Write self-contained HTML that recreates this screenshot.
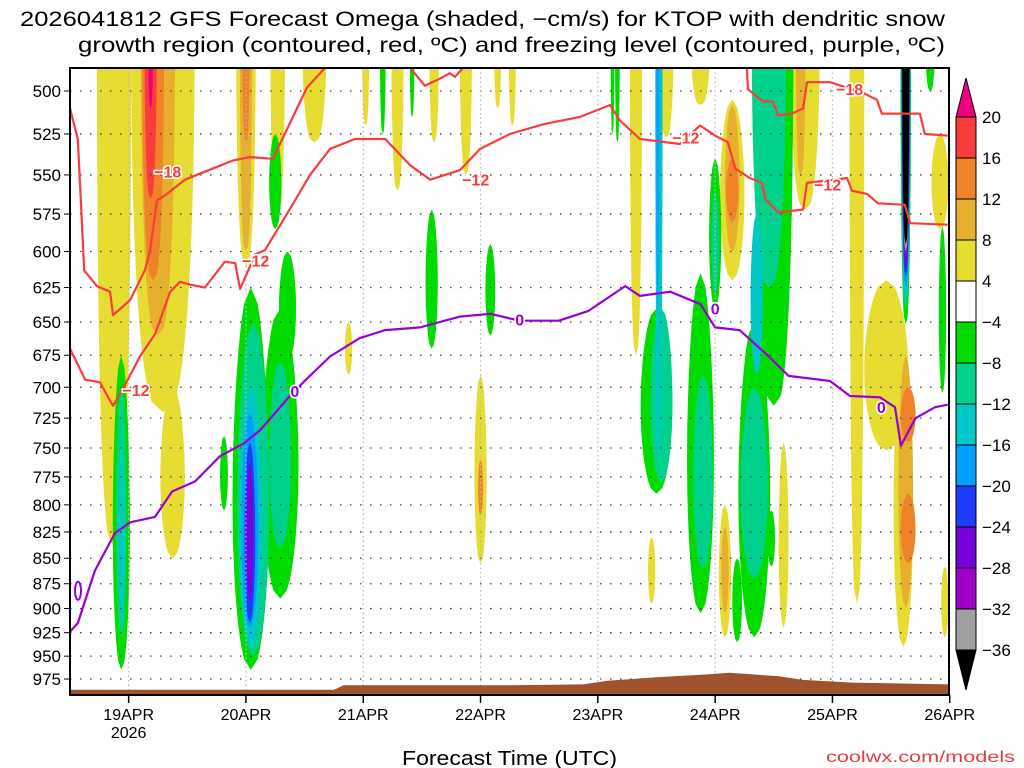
<!DOCTYPE html>
<html><head><meta charset="utf-8"><style>
html,body{margin:0;padding:0;background:#fff;}
svg{display:block;font-family:"Liberation Sans","DejaVu Sans",sans-serif;}
</style></head><body>
<svg id="chart" width="1024" height="768" viewBox="0 0 1024 768" xmlns="http://www.w3.org/2000/svg">
<defs><clipPath id="plotclip"><rect x="70" y="68" width="879" height="627"/></clipPath></defs>
<text x="20" y="26" font-size="21" textLength="925" lengthAdjust="spacingAndGlyphs" fill="#000">2026041812 GFS Forecast Omega (shaded, −cm/s) for KTOP with dendritic snow</text>
<text x="78" y="52" font-size="21" textLength="867" lengthAdjust="spacingAndGlyphs" fill="#000">growth region (contoured, red, ºC) and freezing level (contoured, purple, ºC)</text>
<g id="shading" clip-path="url(#plotclip)"></g>
<g id="grid"></g>
<g id="terrain" clip-path="url(#plotclip)"></g>
<g id="contours" clip-path="url(#plotclip)"></g>
<g id="axes"></g>
<g id="colorbar"></g>
<text x="402" y="765" font-size="20" textLength="215" lengthAdjust="spacingAndGlyphs" fill="#000">Forecast Time (UTC)</text>
<text x="826" y="762" font-size="16" textLength="189" lengthAdjust="spacingAndGlyphs" fill="#e83c3c">coolwx.com/models</text>
</svg>
<script>
// ---- data ----
const pressureTicks = [500,525,550,575,600,625,650,675,700,725,750,775,800,825,850,875,900,925,950,975];
const dayLabels = ["19APR","20APR","21APR","22APR","23APR","24APR","25APR","26APR"];
const dayHours = [12,36,60,84,108,132,156,180];
const cbLevels = ["20","16","12","8","4","−4","−8","−12","−16","−20","−24","−28","−32","−36"];
const cbColors = ["#fa3c3c","#f08228","#e6af2d","#e6dc32","#ffffff","#00dc00","#00d28c","#00c8c8","#00a0ff","#1e3cff","#7800dc","#a000c8","#a0a0a0"];
// shaded blobs: [hour, pTop, pBottom, widthHours, level]
const blobs = [
[9,470,840,7,1],[19,470,720,13,1],[21,700,850,5,1],[18,470,660,7,2],[17,470,620,4.5,3],[16.5,470,565,2.5,4],[16.5,470,510,1,5],
[36,470,610,4,1],[36,470,600,2.5,2],[36,470,530,1.5,3],[42.5,470,575,3,1],[50,470,530,5,1],
[60.5,470,520,1.5,1],[67,470,560,2.5,1],[74.5,470,530,2,1],[81,470,550,2.5,1],[87.5,470,510,1.5,1],[90.5,470,520,1.5,1],
[84,690,855,2.5,1],[84,760,810,1,3],[57,650,690,1.5,1],
[115.8,470,675,2.5,1],[122,470,527,3,1],[129,470,508,4,1],[135.5,505,620,5,1],[135.5,508,600,3,2],[135.5,540,580,2.5,3],
[150.4,470,572,6,1],[149.5,470,550,2,2],[161,470,895,3,1],[167,620,752,9,1],[170.5,670,940,4,1],[171,675,900,3,2],
[171.5,700,745,3,3],[171.5,790,855,3,3],[178,525,585,3.5,1],[179,858,930,1.5,1],[146,745,920,2,1],
[134,800,930,2.5,1],[134,820,905,1.5,2],[119,830,895,1.5,1],
[120,640,790,6.5,-1],[121,640,780,4.5,-2],[120.5,470,760,1.5,-3],[120.3,470,640,0.7,-4],
[129,615,905,5.5,-1],[129.5,690,860,4,-2],[132,540,640,2.5,-1],[132,560,630,1.5,-2],
[140,650,930,6.5,-1],[140,700,870,5.5,-2],[136.5,850,935,2,-1],
[144,470,715,8,-1],[143,470,625,7,-2],[140.5,575,690,2.5,-3],[143.5,805,858,1.5,-1],
[112,470,530,1,-1],[111,470,525,0.8,-1],[176,470,500,2,-1],[178.5,583,705,1.5,-1],
[171,470,652,2.2,-1],[171,470,640,2,-2],[171,470,632,1.9,-3],[171,470,625,1.8,-4],[171,470,618,1.7,-5],[171,470,612,1.6,-6],[171,470,605,1.5,-7],[171,470,600,1.5,-8],[171,470,595,1.5,-9],
[10.5,675,965,3.5,-1],[10.5,700,930,2,-2],[10.5,750,920,1,-3],
[37,625,965,7.5,-1],[43,640,890,7.5,-1],[37.5,650,950,6.5,-2],[43,680,840,4.5,-2],[37,700,940,4.5,-3],[36.8,720,920,3.5,-4],[36.8,745,915,2.2,-5],[36.8,763,893,1.4,-6],[31.5,740,805,1.6,-1],
[74,572,670,2.5,-1],[86,595,660,2,-1],[64,470,525,1.2,-1],[70,470,515,1,-1],[42,525,585,2.5,-1],[44.5,600,680,3.5,-1]
];
const terrainH = [0,20,40,54,56,90,105,110,120,130,135,145,150,160,170,180];
const terrainP = [987,987,987,987,982,982,981,977,973,970,968,972,976,979,980,981];
const frzH = [0,1.6,5.1,9.2,12.3,17.4,20.9,25.6,30.7,33.8,35.6,38.9,45,48,53.2,59.3,64.5,71.6,79.8,86,92,100,106,113.6,116.6,122.8,129,132,137,143,147,155.5,159.6,165.7,168.8,170,173,177,179.6];
const frzP = [924,915,862,826,816,811,788,779,757,750,746,735,707,695,676,662,656,654,646,644,649,649,642,624,631,628,637,654,656,676,691,695,707,708,716,748,725,716,714];
const m12H = [0,3.1,6.1,8.8,11.3,14.3,17.4,20.5,22.5,24.6,27.6,31.7,33.8,34.8,37.9,39.9,44,49.1,53.2,58.3,64.5,69.6,73.7,79.8,83.9,90,97.2,104.3,110.5,112.5,116.6,124.8,128.9,132,134.6,136.1,139.1,141.6,142.2,144.9,150,150.8,159,160,163.1,165.3,170.8,171.9,179.6];
const m12P = [670,694,696,715,698,676,659,628,621,623,625,607,608,626,602,599,577,550,534,528,528,544,553,547,534,525,519,515,508,517,528,531,520,526,530,546,552,555,565,574,572,555,552,560,562,568,569,581,582];
const m18aH = [0,1.6,2.2,2.9,5.5,8.2,8.8,12.3,15.3,16.4,17.8,19.4,23.5,27.6,33.4,36.8,41.5,45.6,48.5,52.2];
const m18aP = [510,528,566,613,624,628,645,634,613,599,566,563,553,548,541,539,540,515,498,487];
const m18bH = [138.5,138.7,141.8,143.8,144.9,147.7,150,150.8,155.5,162.2,165.1,166.1,173.9,174.9,179.6];
const m18bP = [487,499,506,506,514,513,510,495,495,501,505,513,513,525,526];
const m18cH = [69.6,72.6,75.7,77.7,78.8,80.4];
const m18cP = [487,497,493,490,492,487];
const redLabels = [["−18",20,548],["−12",38,606],["−12",13.5,702],["−12",83,553],["−12",126,527],["−18",159.5,499],["−12",155,556]];
const frzLabels = [["0",46,703],["0",92,648],["0",132,640],["0",166,716]];

// ---- axis functions ----
const X0=70, PXH=4.8875, Y0=91, YK=880.5;
const xs = h => X0 + h*PXH;
const ys = p => Y0 + YK*Math.log(p/500);
const NS="http://www.w3.org/2000/svg";
function mk(tag, attrs, parent){const e=document.createElementNS(NS,tag);for(const k in attrs)e.setAttribute(k,attrs[k]);parent.appendChild(e);return e;}
const levelColor = {1:"#e6dc32",2:"#e6af2d",3:"#f08228",4:"#fa3c3c",5:"#f0007f","-1":"#00dc00","-2":"#00d28c","-3":"#00c8c8","-4":"#00a0ff","-5":"#1e3cff","-6":"#7800dc","-7":"#a000c8","-8":"#a0a0a0","-9":"#000000"};

// shading
const shadeG=document.getElementById('shading');
const ordered = blobs.slice().sort((a,b)=>Math.abs(a[4])-Math.abs(b[4]));
ordered.forEach(b=>{
  const [h,pt,pb,w,lv]=b, N=30, L=[], R=[];
  const flatTop = pt<=490;
  for(let i=0;i<=N;i++){
    const t=i/N;
    const prof = flatTop ? Math.pow(Math.max(0,Math.sin(Math.PI*(0.5+0.5*t))),0.35) : Math.pow(Math.sin(Math.PI*t),0.45);
    const y=ys(pt+(pb-pt)*t), hw=w/2*PXH*prof;
    L.push((xs(h)-hw).toFixed(1)+","+y.toFixed(1));
    R.unshift((xs(h)+hw).toFixed(1)+","+y.toFixed(1));
  }
  const el=mk('polygon',{points:L.concat(R).join(' '),fill:levelColor[lv]},shadeG);
  
  
});

// grid
const gridG=document.getElementById('grid');
pressureTicks.forEach(p=>{
  const l=mk('line',{x1:70,x2:949,y1:ys(p),y2:ys(p),stroke:"#444","stroke-width":1.3,"stroke-dasharray":"1.5,8.5"},gridG);
  
  
});
dayHours.forEach(h=>{
  const l=mk('line',{x1:xs(h),x2:xs(h),y1:68,y2:695,stroke:"#bbb","stroke-width":1.3,"stroke-dasharray":"1.5,3"},gridG);
  
  
});

// terrain
const terG=document.getElementById('terrain');
let tp="M"+xs(terrainH[0])+",700";
terrainH.forEach((h,i)=>{tp+=" L"+xs(h).toFixed(1)+","+ys(terrainP[i]).toFixed(1);});
tp+=" L"+xs(terrainH[terrainH.length-1])+",700 Z";
const tpath=mk('path',{d:tp,fill:"#a0522d"},terG);



// contours
const conG=document.getElementById('contours');
function drawLine(H,P,color,name){
  const d=H.map((h,i)=>(i?"L":"M")+xs(h).toFixed(1)+","+ys(P[i]).toFixed(1)).join(" ");
  const el=mk('path',{d:d,fill:"none",stroke:color,"stroke-width":2.2,"stroke-linejoin":"round"},conG);
  
  
}
drawLine(m12H,m12P,"#fa3c3c","minus12-contour");
drawLine(m18aH,m18aP,"#fa3c3c","minus18-contour-left");
drawLine(m18bH,m18bP,"#fa3c3c","minus18-contour-right");
drawLine(m18cH,m18cP,"#fa3c3c","minus18-contour-top");
drawLine(frzH,frzP,"#9b00d2","freezing-level-contour");
const loopEl=mk('ellipse',{cx:78,cy:ys(882),rx:3,ry:9,fill:"none",stroke:"#9b00d2","stroke-width":2},conG);


redLabels.forEach(l=>{
  const t=mk('text',{x:xs(l[1]),y:ys(l[2])+6,"font-size":16,"font-weight":"bold",fill:"#fa3c3c","text-anchor":"middle",stroke:"#fff","stroke-width":3,"paint-order":"stroke"},conG);
  t.textContent=l[0];
  
  
});
frzLabels.forEach(l=>{
  const t=mk('text',{x:xs(l[1]),y:ys(l[2])+6,"font-size":16,"font-weight":"bold",fill:"#9b00d2","text-anchor":"middle",stroke:"#fff","stroke-width":3,"paint-order":"stroke"},conG);
  t.textContent=l[0];
  
  
});

// axes
const axG=document.getElementById('axes');
const frameEl=mk('rect',{x:70,y:68,width:879,height:627,fill:"none",stroke:"#000","stroke-width":2},axG);


pressureTicks.forEach(p=>{
  const tk=mk('line',{x1:64,x2:70,y1:ys(p),y2:ys(p),stroke:"#000","stroke-width":1},axG);
  
  
  const t=mk('text',{x:61,y:ys(p)+6,"font-size":17,"text-anchor":"end",fill:"#000"},axG);
  t.textContent=p;
  
  
});
dayLabels.forEach((d,i)=>{
  const x=xs(dayHours[i]);
  const tk=mk('line',{x1:x,x2:x,y1:695,y2:703,stroke:"#000","stroke-width":1.5},axG);
  
  
  const t=mk('text',{x:x,y:720,"font-size":16,"text-anchor":"middle",fill:"#000"},axG);
  t.textContent=d;
  
  
});
const yrEl=mk('text',{x:xs(dayHours[0]),y:738,"font-size":16,"text-anchor":"middle",fill:"#000"},axG);
yrEl.textContent="2026";



// colorbar
const cbG=document.getElementById('colorbar');
const CBX=956, CBW=20, CBT=117, CBS=41;
const topArrow=mk('polygon',{points:`${CBX},${CBT} ${CBX+CBW},${CBT} ${CBX+CBW/2},78`,fill:"#f0007f",stroke:"#000","stroke-width":1},cbG);


cbColors.forEach((c,i)=>{
  const r=mk('rect',{x:CBX,y:CBT+i*CBS,width:CBW,height:CBS,fill:c,stroke:"#000","stroke-width":1},cbG);
  
  
});
const botArrow=mk('polygon',{points:`${CBX},${CBT+13*CBS} ${CBX+CBW},${CBT+13*CBS} ${CBX+CBW/2},690`,fill:"#000",stroke:"#000","stroke-width":1},cbG);


cbLevels.forEach((l,i)=>{
  const t=mk('text',{x:982,y:CBT+i*CBS+6,"font-size":17,fill:"#000"},cbG);
  t.textContent=l;
  
  
});
</script>
</body></html>
